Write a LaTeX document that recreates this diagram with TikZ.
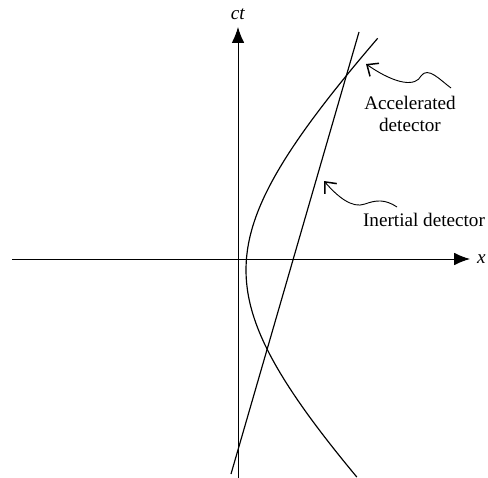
\documentclass[tikz,border=0pt]{standalone}
\usepackage{fontspec}
\setmainfont{Liberation Serif}
\usetikzlibrary{arrows.meta}

\begin{document}
\begin{tikzpicture}[x=0.6pt, y=-0.6pt, >={Latex[length=9.5pt,width=7.5pt]},
  curve/.style={line width=0.7pt},
  pointer/.style={line width=0.55pt, -{Straight Barb[length=5.5pt,width=9.5pt,line width=0.9pt]}},
  lbl/.style={font=\fontsize{11.5}{13.2}\selectfont, align=center, inner sep=1pt}]
  \useasboundingbox (0,0) rectangle (488,478);

  % axes
  \coordinate (O1) at (238,478);
  \coordinate (T1) at (238,27);
  \coordinate (O2) at (12,259);
  \coordinate (X1) at (470,259);
  \draw[line width=0.6pt, ->] (O1) -- (T1);
  \draw[line width=0.6pt, ->] (O2) -- (X1);
  \node[lbl] (ct) at (238,14) {\textit{ct}};
  \node[lbl, anchor=west] (xl) at (475,259) {\textit{x}};

  % world lines
  \coordinate (IB) at (231,474);
  \coordinate (IT) at (359,32);
  \draw[curve] (IB) -- (IT);
  \draw[curve] plot[domain=-1.29:1.195, samples=100]
    ({108+138*cosh(\x)}, {270+138*sinh(\x)});

  % labels
  \node[lbl] (acc) at (410,114) {Accelerated\\detector};
  \node[lbl] (ine) at (424,220) {Inertial detector};
  \coordinate (acctip) at (366,64);
  \coordinate (acctail) at (451,88);
  \coordinate (inetip) at (324,181);
  \coordinate (inetail) at (397,207);
  \draw[pointer] (acctail) .. controls (440,80) and (428,66) .. (421,76)
    .. controls (416,86) and (398,86) .. (acctip);
  \draw[pointer] (inetail) .. controls (385,199) and (376,200) .. (365,204)
    .. controls (352,209) and (337,196) .. (inetip);
\end{tikzpicture}
\end{document}
